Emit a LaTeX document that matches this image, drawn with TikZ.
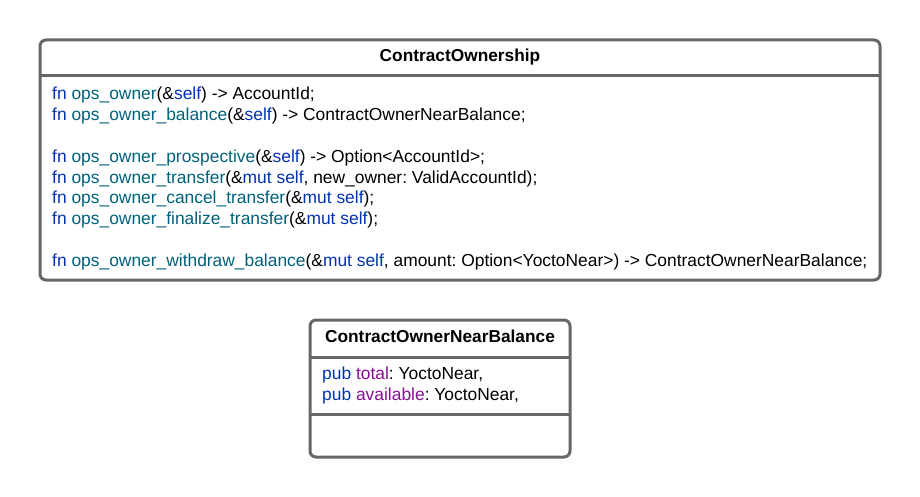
\documentclass[tikz,border=0pt]{standalone}
\usepackage{fontspec}
\setmainfont{Liberation Sans}

\definecolor{kwblue}{HTML}{0033B3}
\definecolor{fnteal}{HTML}{00627A}
\definecolor{fieldpurple}{HTML}{871094}
\definecolor{boxgray}{HTML}{666666}

\newcommand{\kw}[1]{\textcolor{kwblue}{#1}}
\newcommand{\fnm}[1]{\textcolor{fnteal}{#1}}
\newcommand{\fld}[1]{\textcolor{fieldpurple}{#1}}

\begin{document}
\frenchspacing
\begin{tikzpicture}[x=1pt, y=-1pt,
    classbox/.style={draw=boxgray, line width=3pt, rounded corners=6pt, fill=white},
    divider/.style={draw=boxgray, line width=3pt},
    title/.style={font=\fontsize{17.3}{20.8}\selectfont\bfseries, anchor=base, inner sep=0pt},
    member/.style={font=\fontsize{17.4}{20.8}\selectfont, anchor=base west, inner sep=0pt}]
  \useasboundingbox (0, 0) rectangle (920, 497);

  % Class box with a header
  \draw[classbox] (40, 40) rectangle (880, 280);
  \coordinate (ownL) at (40, 76);
  \coordinate (ownR) at (880, 76);
  \draw[divider] (ownL) -- (ownR);
  \node[title] (own) at (460, 62) {ContractOwnership};

  % Methods
  \node[member] (m1) at (52, 100) {\kw{fn} \fnm{ops\_owner}(\&\kw{self}) -> AccountId;};
  \node[member] (m2) at (52, 120.8) {\kw{fn} \fnm{ops\_owner\_balance}(\&\kw{self}) -> ContractOwnerNearBalance;};
  \node[member] (m3) at (52, 162.4) {\kw{fn} \fnm{ops\_owner\_prospective}(\&\kw{self}) -> Option<AccountId>;};
  \node[member] (m4) at (52, 183.2) {\kw{fn} \fnm{ops\_owner\_transfer}(\&\kw{mut self}, new\_owner: ValidAccountId);};
  \node[member] (m5) at (52, 204) {\kw{fn} \fnm{ops\_owner\_cancel\_transfer}(\&\kw{mut self});};
  \node[member] (m6) at (52, 224.8) {\kw{fn} \fnm{ops\_owner\_finalize\_transfer}(\&\kw{mut self});};
  \node[member] (m7) at (52, 266.4) {\kw{fn} \fnm{ops\_owner\_withdraw\_balance}(\&\kw{mut self}, amount: Option<YoctoNear>) -> ContractOwnerNearBalance;};

  % Struct box with an empty bottom part
  \draw[classbox] (310, 320) rectangle (570, 457);
  \coordinate (balL) at (310, 357);
  \coordinate (balR) at (570, 357);
  \coordinate (balLL) at (310, 414);
  \coordinate (balRR) at (570, 414);
  \draw[divider] (balL) -- (balR);
  \draw[divider] (balLL) -- (balRR);
  \node[title] (bal) at (440, 342) {ContractOwnerNearBalance};

  % Fields
  \node[member] (f1) at (322, 379) {\kw{pub} \fld{total}: YoctoNear,};
  \node[member] (f2) at (322, 400) {\kw{pub} \fld{available}: YoctoNear,};
\end{tikzpicture}
\end{document}
